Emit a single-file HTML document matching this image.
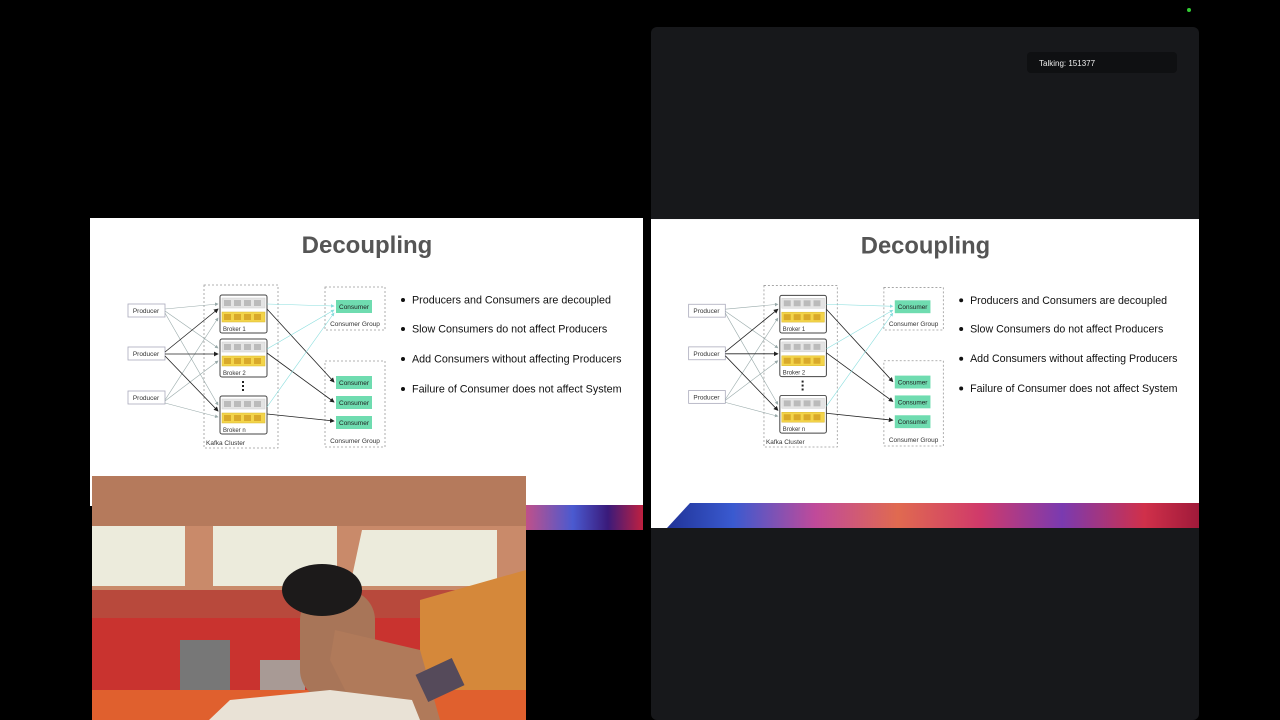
<!DOCTYPE html>
<html><head><meta charset="utf-8"><style>
html,body{margin:0;padding:0;background:#000;width:1280px;height:720px;overflow:hidden}
svg{position:absolute;left:0;top:0}
text{font-family:"Liberation Sans",sans-serif}
</style></head><body>
<svg width="1280" height="720" viewBox="0 0 1280 720">
<defs>
<linearGradient id="ban" x1="0" x2="1" y1="0" y2="0">
<stop offset="0" stop-color="#1a2a8a"/><stop offset="0.15" stop-color="#3a5ad0"/><stop offset="0.3" stop-color="#c04a9a"/><stop offset="0.45" stop-color="#e06a50"/><stop offset="0.6" stop-color="#d03a6a"/><stop offset="0.75" stop-color="#7a3ab0"/><stop offset="0.9" stop-color="#d0304a"/><stop offset="1" stop-color="#a01a3a"/>
</linearGradient>
<linearGradient id="banL" x1="0" x2="1"><stop offset="0" stop-color="#c0508a"/><stop offset="0.4" stop-color="#4a5ad0"/><stop offset="0.7" stop-color="#3a1a7a"/><stop offset="1" stop-color="#c02040"/></linearGradient>
<marker id="ak" markerWidth="6" markerHeight="6" refX="5" refY="3" orient="auto"><path d="M0,0L6,3L0,6z" fill="#222"/></marker>
<marker id="ag" markerWidth="6" markerHeight="6" refX="5" refY="3" orient="auto"><path d="M0,0L6,3L0,6z" fill="#9aa"/></marker>
<marker id="at" markerWidth="6" markerHeight="6" refX="5" refY="3" orient="auto"><path d="M0,0L6,3L0,6z" fill="#8dd"/></marker>
<g id="slide">
<rect x="90" y="218" width="553" height="288" fill="#fff"/>
<text x="367" y="253" text-anchor="middle" font-size="24" font-weight="bold" fill="#555">Decoupling</text>
<rect x="204" y="285" width="74" height="163" fill="none" stroke="#999" stroke-dasharray="2,2" stroke-width="0.8"/>
<text x="206" y="445" font-size="6.5" fill="#333">Kafka Cluster</text>
<rect x="325" y="287" width="60" height="43" fill="none" stroke="#999" stroke-dasharray="2,2" stroke-width="0.8"/>
<text x="355" y="326" font-size="6.5" fill="#333" text-anchor="middle">Consumer Group</text>
<rect x="325" y="361" width="60" height="86" fill="none" stroke="#999" stroke-dasharray="2,2" stroke-width="0.8"/>
<text x="355" y="443" font-size="6.5" fill="#333" text-anchor="middle">Consumer Group</text>
<g font-size="6.5" fill="#333" text-anchor="middle">
<rect x="128" y="304" width="37" height="13" fill="#fff" stroke="#aab" stroke-width="0.8"/><text x="146" y="313">Producer</text>
<rect x="128" y="347" width="37" height="13" fill="#fff" stroke="#aab" stroke-width="0.8"/><text x="146" y="356">Producer</text>
<rect x="128" y="391" width="37" height="13" fill="#fff" stroke="#aab" stroke-width="0.8"/><text x="146" y="400">Producer</text>
</g>
<g id="br">
<rect x="220" y="295" width="47" height="38" rx="2" fill="#fff" stroke="#444" stroke-width="1"/>
<rect x="222" y="298" width="43" height="10" fill="#e4e4e4" stroke="#ccc" stroke-width="0.5"/>
<rect x="224" y="300" width="7" height="6" fill="#bbb"/><rect x="234" y="300" width="7" height="6" fill="#bbb"/><rect x="244" y="300" width="7" height="6" fill="#bbb"/><rect x="254" y="300" width="7" height="6" fill="#bbb"/>
<rect x="222" y="312" width="43" height="10" fill="#f3d44a" stroke="#d8b830" stroke-width="0.5"/>
<rect x="224" y="314" width="7" height="6" fill="#d9a92a"/><rect x="234" y="314" width="7" height="6" fill="#d9a92a"/><rect x="244" y="314" width="7" height="6" fill="#d9a92a"/><rect x="254" y="314" width="7" height="6" fill="#d9a92a"/>
</g>
<text x="223" y="331" font-size="6" fill="#333">Broker 1</text>
<use href="#br" transform="translate(0,44)"/><text x="223" y="375" font-size="6" fill="#333">Broker 2</text>
<use href="#br" transform="translate(0,101)"/><text x="223" y="432" font-size="6" fill="#333">Broker n</text>
<g fill="#222"><rect x="242" y="381" width="2" height="2"/><rect x="242" y="385" width="2" height="2"/><rect x="242" y="389" width="2" height="2"/></g>
<g font-size="6.5" fill="#222" text-anchor="middle">
<rect x="336" y="300" width="36" height="13" fill="#6fdcb0"/><text x="354" y="309">Consumer</text>
<rect x="336" y="376" width="36" height="13" fill="#6fdcb0"/><text x="354" y="385">Consumer</text>
<rect x="336" y="396" width="36" height="13" fill="#6fdcb0"/><text x="354" y="405">Consumer</text>
<rect x="336" y="416" width="36" height="13" fill="#6fdcb0"/><text x="354" y="425">Consumer</text>
</g>
<g stroke="#9aa" stroke-width="0.6" fill="none" marker-end="url(#ag)">
<path d="M165,309L218,304"/><path d="M165,311L218,348"/><path d="M165,313L218,405"/>
<path d="M165,400L218,318"/><path d="M165,401L218,361"/><path d="M165,403L218,417"/>
</g>
<g stroke="#222" stroke-width="0.8" fill="none" marker-end="url(#ak)">
<path d="M165,352L218,309"/><path d="M165,354L218,354"/><path d="M165,356L218,411"/>
<path d="M267,309L334,382"/><path d="M267,353L334,402"/><path d="M267,414L334,421"/>
</g>
<g stroke="#8dd" stroke-width="0.6" fill="none" marker-end="url(#at)">
<path d="M267,304L334,306"/><path d="M267,349L334,310"/><path d="M267,407L334,313"/>
</g>
<g font-size="10.75" fill="#111">
<circle cx="403" cy="300" r="2"/><text x="412" y="303.5">Producers and Consumers are decoupled</text>
<circle cx="403" cy="329" r="2"/><text x="412" y="332.5">Slow Consumers do not affect Producers</text>
<circle cx="403" cy="359" r="2"/><text x="412" y="362.5">Add Consumers without affecting Producers</text>
<circle cx="403" cy="389" r="2"/><text x="412" y="392.5">Failure of Consumer does not affect System</text>
</g>
</g>
</defs>
<use href="#slide"/>
<rect x="526" y="505" width="117" height="25" fill="url(#banL)"/>
<rect x="651" y="27" width="548" height="693" rx="6" fill="#17181b"/>
<rect x="1027" y="52" width="150" height="21" rx="4" fill="#0f1012"/>
<text x="1039" y="66" font-size="8" fill="#eee">Talking: 151377</text>
<svg x="651" y="219" width="548" height="290" viewBox="651 219 548 290" overflow="hidden">
<g transform="translate(561.8,3) scale(0.991)"><use href="#slide"/></g>
</svg>
<rect x="651" y="503" width="548" height="25" fill="url(#ban)"/>
<polygon points="651,503 690,503 667,528 651,528" fill="#fff"/>
<circle cx="1189" cy="10" r="2" fill="#3c3"/>
<rect x="92" y="476" width="434" height="244" fill="#c98a6a"/>
<rect x="92" y="476" width="434" height="50" fill="#b57a5c"/>
<rect x="92" y="526" width="93" height="60" fill="#ecebdc"/>
<rect x="213" y="526" width="124" height="60" fill="#ecebdc"/>
<polygon points="362,530 497,530 497,586 350,586" fill="#ecebdc"/>
<rect x="92" y="590" width="434" height="28" fill="#b8493c"/>
<rect x="92" y="618" width="434" height="80" fill="#c9332f"/>
<polygon points="420,600 526,570 526,690 420,700" fill="#d5883a"/>
<rect x="92" y="690" width="434" height="30" fill="#e0602e"/>
<rect x="180" y="640" width="50" height="50" fill="#777"/>
<rect x="260" y="660" width="45" height="30" fill="#a89a95"/>
<rect x="300" y="590" width="75" height="110" rx="30" fill="#a87558"/>
<ellipse cx="322" cy="590" rx="40" ry="26" fill="#1c1a1a"/>
<polygon points="335,630 420,650 440,720 360,720 330,660" fill="#b07a5a"/>
<rect x="420" y="665" width="40" height="30" fill="#554a5a" transform="rotate(-25 440 680)"/>
<polygon points="209,720 230,700 330,690 412,700 420,720" fill="#e9e2d6"/>
</svg>
</body></html>
